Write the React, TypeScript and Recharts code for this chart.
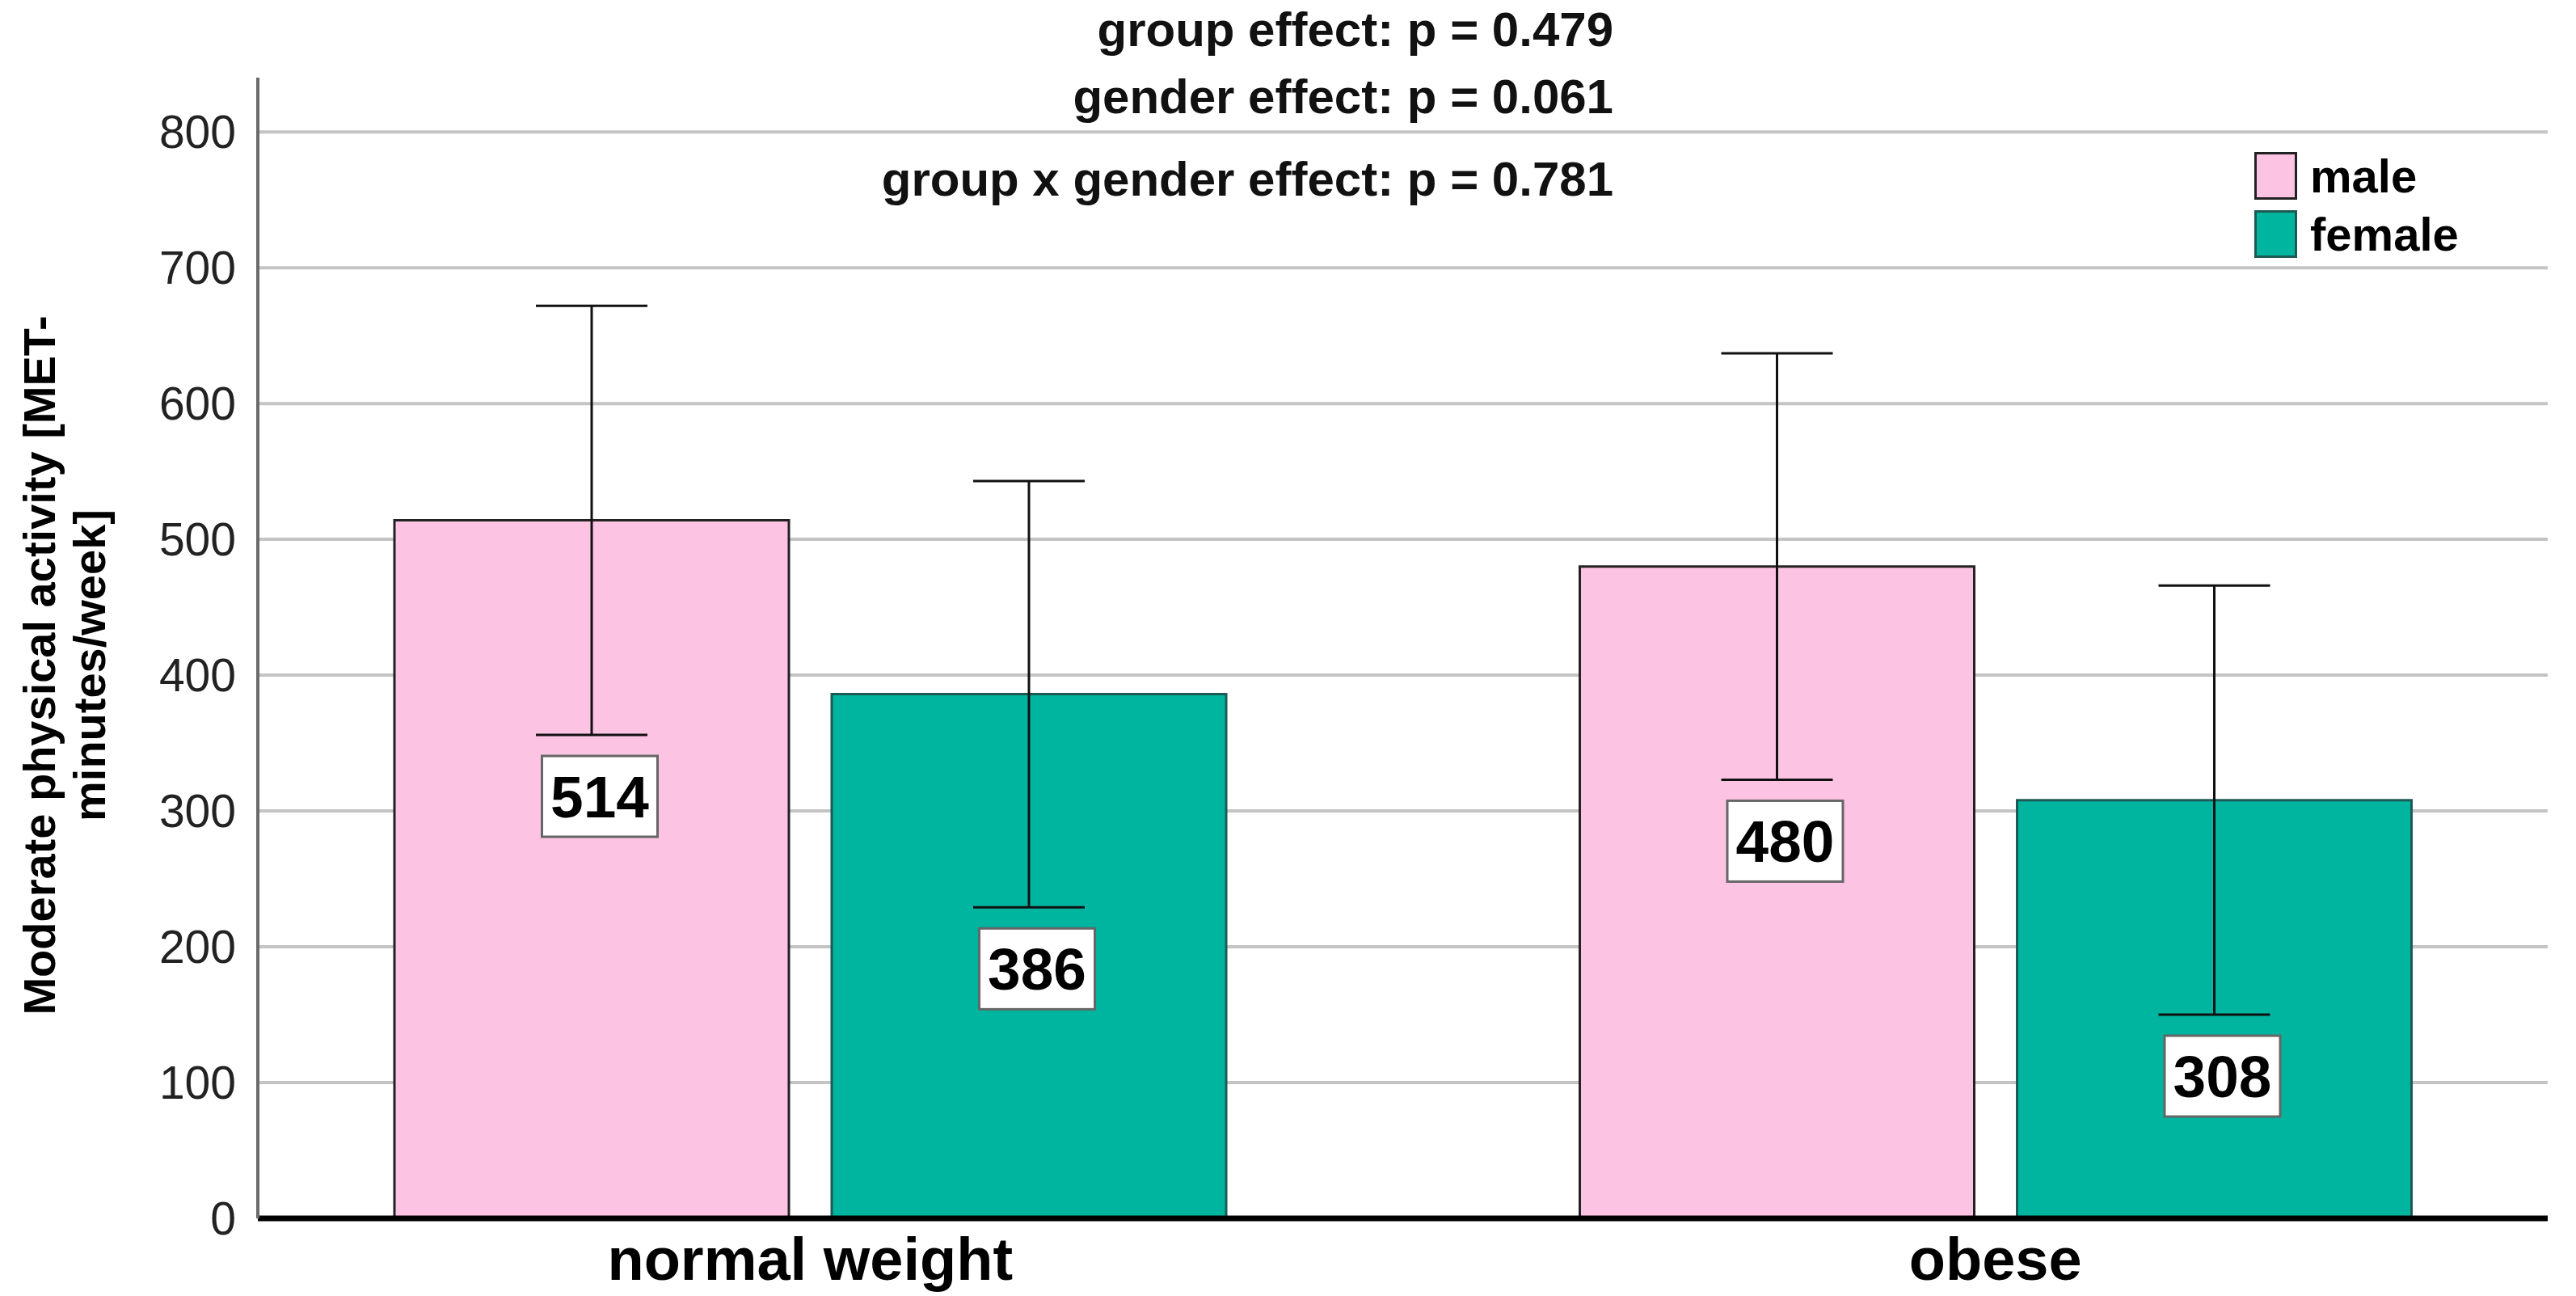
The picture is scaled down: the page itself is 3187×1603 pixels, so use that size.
import React from "react";
import {
  BarChart,
  Bar,
  XAxis,
  YAxis,
  CartesianGrid,
  ErrorBar,
  LabelList,
  Customized,
} from "recharts";

const categories = ["normal weight", "obese"];
const maleMean = [514, 480];
const femaleMean = [386, 308];
const maleErr = [158, 157];
const femaleErr = [157, 158];
const yTicks = [0, 100, 200, 300, 400, 500, 600, 700, 800];
const seriesNames = ["male", "female"];
const statLines = [
  "group effect: p = 0.479",
  "gender effect: p = 0.061",
  "group x gender effect: p = 0.781",
];
const yLabelLines = ["Moderate physical activity [MET-", "minutes/week]"];

const data = categories.map((category, i) => ({
  category,
  male: maleMean[i],
  female: femaleMean[i],
  maleErr: maleErr[i],
  femaleErr: femaleErr[i],
}));

const FONT = "'Liberation Sans', Arial, sans-serif";
const FILLS = ["#fdc3e3", "#00b5a0"];
const EDGES = ["#222222", "#1d5a53"];

// white value box placed just under the lower error cap
const makeValueBox = (errs: number[]) => (props: any) => {
  const vb = props.viewBox ?? props;
  const { x, y, width, height } = vb;
  const value = Number(props.value);
  const idx = props.index ?? 0;
  if (!value || !height) return null;
  const perUnit = height / value;
  const lowerY = y + errs[idx] * perUnit;
  const boxW = 143;
  const boxH = 100;
  const cx = x + width / 2 + 10;
  const top = lowerY + 26;
  return (
    <g>
      <rect
        x={cx - boxW / 2}
        y={top}
        width={boxW}
        height={boxH}
        fill="#ffffff"
        stroke="#666666"
        strokeWidth={3}
      />
      <text
        x={cx}
        y={top + boxH / 2 + 26}
        textAnchor="middle"
        fontFamily={FONT}
        fontWeight="bold"
        fontSize={73}
        fill="#000"
      >
        {value}
      </text>
    </g>
  );
};

const Annotations = () => (
  <g>
    {statLines.map((line, i) => (
      <text
        key={line}
        x={1996}
        y={[57, 140, 242][i]}
        textAnchor="end"
        fontFamily={FONT}
        fontWeight="bold"
        fontSize={60}
        fill="#111"
      >
        {line}
      </text>
    ))}
    {yLabelLines.map((line, i) => (
      <text
        key={line}
        transform={`translate(${[68, 130][i]},823) rotate(-90)`}
        textAnchor="middle"
        fontFamily={FONT}
        fontWeight="bold"
        fontSize={56}
        fill="#000"
      >
        {line}
      </text>
    ))}
    {/* legend */}
    {seriesNames.map((name, i) => (
      <g key={name} transform={`translate(2789,${188 + i * 72})`}>
        <rect
          x={1.5}
          y={1.5}
          width={50}
          height={56}
          fill={FILLS[i]}
          stroke={EDGES[i]}
          strokeWidth={3}
        />
        <text
          x={69}
          y={50}
          fontFamily={FONT}
          fontWeight="bold"
          fontSize={58}
          fill="#000"
        >
          {name}
        </text>
      </g>
    ))}
  </g>
);

export default function App() {
  return (
    <div
      style={{
        position: "absolute",
        left: 0,
        top: 0,
        width: 3187,
        height: 1603,
        background: "#ffffff",
      }}
    >
      <BarChart
        width={3187}
        height={1603}
        data={data}
        margin={{ top: 96, right: 35, left: 0, bottom: 0 }}
        barSize={488}
        barGap={53}
      >
        <CartesianGrid
          vertical={false}
          horizontalValues={yTicks}
          syncWithTicks={false}
          stroke="#c4c4c4"
          strokeWidth={4}
        />
        <XAxis
          dataKey="category"
          height={96}
          padding={{ left: -50, right: -50 }}
          tickLine={false}
          tickSize={0}
          tickMargin={23}
          axisLine={{ stroke: "#000", strokeWidth: 7 }}
          tick={{
            fontFamily: FONT,
            fontWeight: "bold",
            fontSize: 74,
            fill: "#000",
          }}
        />
        <YAxis
          width={319}
          domain={[0, 840]}
          ticks={yTicks}
          interval={0}
          tickLine={false}
          tickSize={0}
          tickMargin={27}
          axisLine={{ stroke: "#6b6b6b", strokeWidth: 4 }}
          tick={{ fontFamily: FONT, fontSize: 57, fill: "#222" }}
        />
        <Bar
          dataKey="male"
          name={seriesNames[0]}
          fill={FILLS[0]}
          stroke={EDGES[0]}
          strokeWidth={3}
          isAnimationActive={false}
        >
          <ErrorBar
            dataKey="maleErr"
            width={69}
            stroke="#111"
            strokeWidth={3}
            direction="y"
          />
          <LabelList dataKey="male" content={makeValueBox(maleErr)} />
        </Bar>
        <Bar
          dataKey="female"
          name={seriesNames[1]}
          fill={FILLS[1]}
          stroke={EDGES[1]}
          strokeWidth={3}
          isAnimationActive={false}
        >
          <ErrorBar
            dataKey="femaleErr"
            width={69}
            stroke="#111"
            strokeWidth={3}
            direction="y"
          />
          <LabelList dataKey="female" content={makeValueBox(femaleErr)} />
        </Bar>
        <Customized component={<Annotations />} />
      </BarChart>
    </div>
  );
}
